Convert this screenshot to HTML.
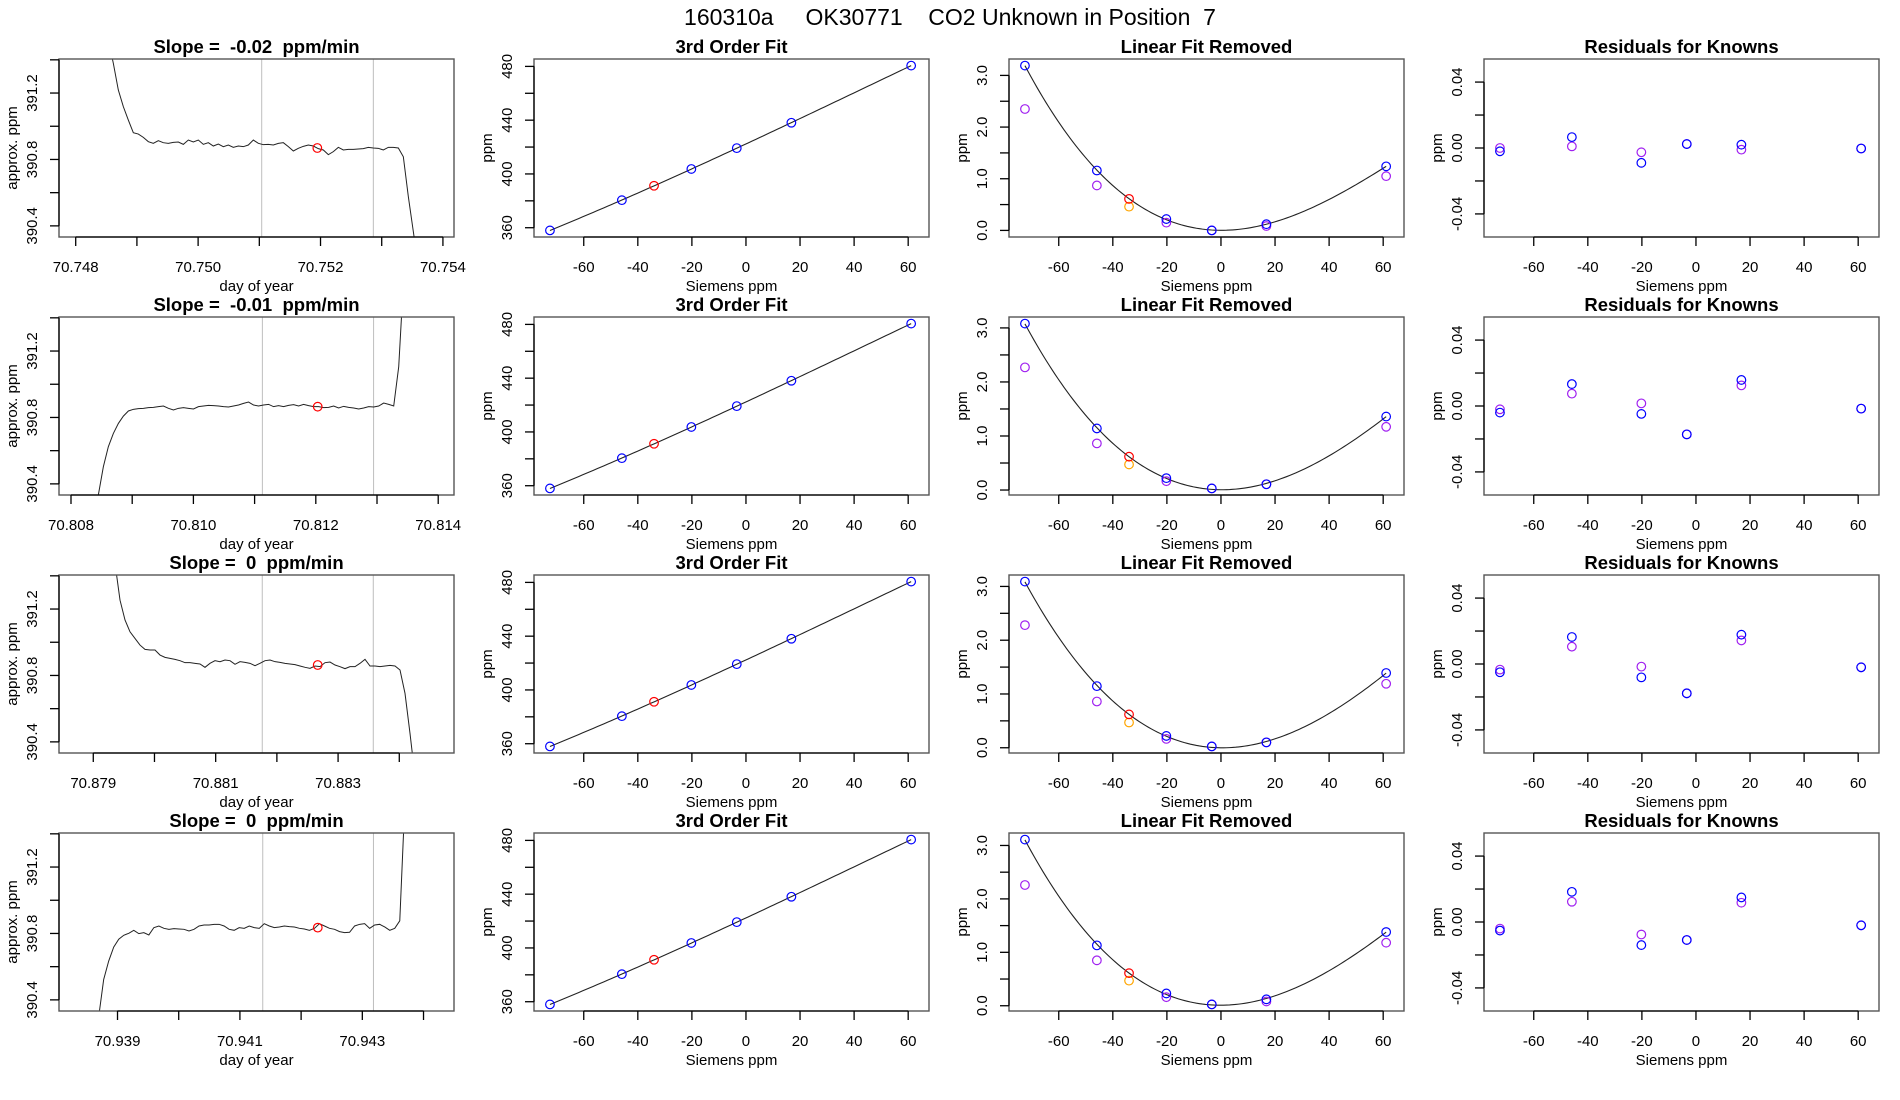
<!DOCTYPE html>
<html>
<head>
<meta charset="utf-8">
<style>
  html, body { margin: 0; padding: 0; background: #ffffff; }
  svg { display: block; font-family: "Liberation Sans", Arial, sans-serif; }
</style>
</head>
<body>
<svg id="fig" width="1900" height="1100" viewBox="0 0 1900 1100" xmlns="http://www.w3.org/2000/svg">
  <rect x="0" y="0" width="1900" height="1100" fill="#ffffff"></rect>
  <text x="950" y="25" text-anchor="middle" font-size="23" fill="#000" style="white-space:pre">160310a     OK30771    CO2 Unknown in Position  7</text>
</svg>
<script>
// ---------- Data ----------
const slopeLabels = ["-0.02", "-0.01", "0", "0"];
const traceXlimLo = [70.747727, 70.807804, 70.878440, 70.938044];
const traceXlimHi = [70.754181, 70.814258, 70.884894, 70.944498];
const traceYlim = [390.333, 391.405];
const traceStart = [70.748533, 70.808365, 70.879355, 70.938692];
const traceDt = [0.0000817, 0.0000818, 0.0000817, 0.000082];
const trace1 = [391.519,391.379,391.218,391.118,391.037,390.961,390.953,390.933,390.907,390.897,390.913,390.901,390.897,390.903,390.905,390.891,390.917,390.905,390.917,390.891,390.901,390.881,390.893,390.877,390.887,390.873,390.881,390.877,390.887,390.917,390.897,390.889,390.891,390.887,390.897,390.901,390.877,390.851,390.867,390.879,390.887,390.881,390.865,390.857,390.829,390.847,390.873,390.857,390.861,390.861,390.863,390.865,390.873,390.869,390.867,390.857,390.873,390.873,390.869,390.816,390.576,390.365,390.154];
const trace2 = [390.162,390.333,390.503,390.624,390.704,390.764,390.808,390.839,390.849,390.853,390.855,390.859,390.861,390.865,390.869,390.855,390.845,390.855,390.859,390.855,390.851,390.865,390.869,390.873,390.871,390.869,390.865,390.863,390.869,390.875,390.885,390.893,390.875,390.869,390.875,390.879,390.865,390.871,390.865,390.873,390.877,390.869,390.879,390.871,390.865,390.865,390.859,390.861,390.869,390.857,390.867,390.861,390.857,390.851,390.857,390.865,390.863,390.869,390.887,390.879,390.869,391.106,391.648];
const trace3 = [391.475,391.254,391.134,391.063,391.023,390.983,390.957,390.953,390.953,390.923,390.909,390.903,390.897,390.889,390.877,390.877,390.873,390.869,390.849,390.873,390.889,390.883,390.893,390.889,390.867,390.883,390.879,390.873,390.859,390.873,390.889,390.893,390.883,390.879,390.873,390.869,390.865,390.857,390.849,390.843,390.857,390.853,390.877,390.881,390.863,390.853,390.841,390.853,390.853,390.873,390.897,390.857,390.857,390.853,390.857,390.861,390.857,390.833,390.692,390.451,390.190];
const trace4 = [390.297,390.523,390.634,390.718,390.765,390.789,390.801,390.819,390.799,390.805,390.791,390.835,390.845,390.831,390.825,390.829,390.827,390.825,390.815,390.825,390.845,390.851,390.851,390.855,390.855,390.845,390.825,390.819,390.835,390.831,390.845,390.835,390.831,390.859,390.845,390.835,390.839,390.845,390.841,390.839,390.831,390.827,390.819,390.831,390.859,390.845,390.831,390.825,390.811,390.805,390.807,390.845,390.855,390.859,390.831,390.851,390.855,390.839,390.819,390.831,390.876,391.581];
const traces = [trace1, trace2, trace3, trace4];
const markerDay = [70.751948, 70.812031, 70.882667, 70.942272];
const markerPpm = [390.869, 390.865, 390.863, 390.835];
const windowStartDay = [70.751039, 70.811127, 70.881761, 70.941373];
const windowEndDay = [70.752863, 70.812944, 70.883575, 70.943182];

const siemensX = [-72.5, -45.9, -20.2, -3.4, 16.8, 61.1];
const siemensXlim = [-78.4, 67.7];
const unknownX = -34.0;
const knownPpm = [358.0, 380.5, 403.7, 419.2, 438.1, 480.6];
const unknownPpm = 391.2;

const linBlue = [
  [3.19, 1.16, 0.22, 0.00, 0.12, 1.24],
  [3.08, 1.14, 0.22, 0.03, 0.107, 1.36],
  [3.09, 1.146, 0.22, 0.025, 0.10, 1.39],
  [3.11, 1.13, 0.23, 0.025, 0.12, 1.38]
];
const linPurple = [
  [2.35, 0.87, 0.15, 0.00, 0.085, 1.05],
  [2.27, 0.863, 0.164, 0.03, 0.107, 1.17],
  [2.28, 0.86, 0.165, 0.025, 0.10, 1.19],
  [2.26, 0.85, 0.16, 0.025, 0.08, 1.18]
];
const linRed = [0.61, 0.617, 0.62, 0.61];
const linOrange = [0.46, 0.473, 0.47, 0.47];

const resBlue = [
  [-0.002, 0.0066, -0.009, 0.0024, 0.002, -0.0003],
  [-0.004, 0.0133, -0.0048, -0.0172, 0.0158, -0.0016],
  [-0.005, 0.0164, -0.0081, -0.0178, 0.0178, -0.002],
  [-0.0052, 0.0183, -0.014, -0.0109, 0.0149, -0.002]
];
const resPurple = [
  [0.0, 0.001, -0.0026, 0.0024, -0.001, -0.0003],
  [-0.002, 0.0075, 0.0016, -0.0172, 0.0125, -0.0016],
  [-0.0034, 0.0105, -0.0016, -0.0178, 0.0143, -0.002],
  [-0.004, 0.0123, -0.0076, -0.0109, 0.0117, -0.002]
];
const resYlim = [-0.054, 0.054];

const fitYTicks = [360, 380, 400, 420, 440, 460, 480];
const sieXTicks = [-60, -40, -20, 0, 20, 40, 60];
const linYTicks = [0, 0.5, 1, 1.5, 2, 2.5, 3];
const resYTicks = [-0.04, -0.02, 0, 0.02, 0.04];
const traceYTicks = [390.4, 390.6, 390.8, 391.0, 391.2, 391.4];

// ---------- helpers ----------
const NS = "http://www.w3.org/2000/svg";
const svg = document.getElementById("fig");
function mk(tag, attrs, parent) {
  const e = document.createElementNS(NS, tag);
  for (const k in attrs) e.setAttribute(k, attrs[k]);
  (parent || svg).appendChild(e);
  return e;
}
function scale(d0, d1, p0, p1) { return v => p0 + (v - d0) / (d1 - d0) * (p1 - p0); }
function ext(lo, hi) { const d = (hi - lo) * 0.04; return [lo - d, hi + d]; }

function cubicFit(xs, ys) {
  const n = 4, A = [], b = [];
  for (let i = 0; i < n; i++) { A.push([0,0,0,0]); b.push(0); }
  for (let k = 0; k < xs.length; k++) {
    const x = xs[k] / 100, p = [1, x, x*x, x*x*x];
    for (let i = 0; i < n; i++) { b[i] += p[i] * ys[k]; for (let j = 0; j < n; j++) A[i][j] += p[i] * p[j]; }
  }
  for (let i = 0; i < n; i++) {
    let mx = i; for (let r = i+1; r < n; r++) if (Math.abs(A[r][i]) > Math.abs(A[mx][i])) mx = r;
    [A[i], A[mx]] = [A[mx], A[i]]; [b[i], b[mx]] = [b[mx], b[i]];
    for (let r = i+1; r < n; r++) { const f = A[r][i] / A[i][i]; for (let c = i; c < n; c++) A[r][c] -= f * A[i][c]; b[r] -= f * b[i]; }
  }
  const c = [0,0,0,0];
  for (let i = n-1; i >= 0; i--) { let s = b[i]; for (let j = i+1; j < n; j++) s -= A[i][j] * c[j]; c[i] = s / A[i][i]; }
  return x => { const t = x / 100; return c[0] + c[1]*t + c[2]*t*t + c[3]*t*t*t; };
}

function fmt(v, d) { const s = v.toFixed(d); return s === "-" + (0).toFixed(d) ? (0).toFixed(d) : s; }

function drawFrame(g, L, T, W, H) {
  const box = mk("rect", {x: L, y: T, width: W, height: H, fill: "none", stroke: "#555", "stroke-width": 1.4}, g);
  
  
}
function xAxis(g, ticks, sx, B, labelFn) {
  const ax = mk("g", {}, g);
  
  
  mk("line", {x1: sx(ticks[0]), x2: sx(ticks[ticks.length-1]), y1: B, y2: B, stroke: "#000", "stroke-width": 1.3}, ax);
  ticks.forEach((t, i) => {
    mk("line", {x1: sx(t), x2: sx(t), y1: B, y2: B + 9, stroke: "#000", "stroke-width": 1.3}, ax);
    const lab = labelFn(t, i);
    if (lab !== null) {
      const tx = mk("text", {x: sx(t), y: B + 35, "text-anchor": "middle", "font-size": 15, fill: "#000"}, ax);
      tx.textContent = lab;
      
      
    }
  });
}
function yAxis(g, ticks, sy, L, labelFn) {
  const ax = mk("g", {}, g);
  
  
  mk("line", {x1: L, x2: L, y1: sy(ticks[0]), y2: sy(ticks[ticks.length-1]), stroke: "#000", "stroke-width": 1.3}, ax);
  ticks.forEach((t, i) => {
    mk("line", {x1: L, x2: L - 9, y1: sy(t), y2: sy(t), stroke: "#000", "stroke-width": 1.3}, ax);
    const lab = labelFn(t, i);
    if (lab !== null) {
      const tx = mk("text", {x: 0, y: 0, "text-anchor": "middle", "font-size": 15, fill: "#000",
        transform: "translate(" + (L - 22) + "," + sy(t) + ") rotate(-90)"}, ax);
      tx.textContent = lab;
      
      
    }
  });
}
function titles(g, L, T, W, H, main, xl, yl) {
  const t = mk("text", {x: L + W/2, y: T - 6, "text-anchor": "middle", "font-size": 18.5, "font-weight": "bold", fill: "#000", style: "white-space:pre"}, g);
  t.textContent = main;
  
  
  const x = mk("text", {x: L + W/2, y: T + H + 54, "text-anchor": "middle", "font-size": 15, fill: "#000"}, g);
  x.textContent = xl;
  
  
  const y = mk("text", {x: 0, y: 0, "text-anchor": "middle", "font-size": 15, fill: "#000",
    transform: "translate(" + (L - 42) + "," + (T + H/2) + ") rotate(-90)"}, g);
  y.textContent = yl;
  
  
}
function circle(g, cx, cy, color, name) {
  const c = mk("circle", {cx: cx, cy: cy, r: 4.3, fill: "none", stroke: color, "stroke-width": 1.2}, g);
  
  
  return c;
}

const W = 395, H = 178;
const sxCal = siemensXlim;

for (let r = 0; r < 4; r++) {
  const T = 59 + 258 * r;
  const B = T + H;

  // ----- column 1: trace -----
  {
    const L = 59;
    const g = mk("g", {});
    
    
    const sx = scale(traceXlimLo[r], traceXlimHi[r], L, L + W);
    const sy = scale(traceYlim[0], traceYlim[1], B, T);
    const clipId = "clip-trace-" + r;
    const cp = mk("clipPath", {id: clipId}, g);
    mk("rect", {x: L, y: T, width: W, height: H}, cp);
    [windowStartDay[r], windowEndDay[r]].forEach((d, i) => {
      const ln = mk("line", {x1: sx(d), x2: sx(d), y1: T, y2: B, stroke: "#bebebe", "stroke-width": 1}, g);
      
      
    });
    const vals = traces[r];
    let dstr = "";
    vals.forEach((v, i) => { dstr += (i ? "L" : "M") + sx(traceStart[r] + i * traceDt[r]).toFixed(2) + "," + sy(v).toFixed(2); });
    const p = mk("path", {d: dstr, fill: "none", stroke: "#222", "stroke-width": 1.0, "clip-path": "url(#" + clipId + ")"}, g);
    
    
    circle(g, sx(markerDay[r]), sy(markerPpm[r]), "#ff0000", "unknown-mean-marker");
    drawFrame(g, L, T, W, H);
    const xt = [];
    for (let k = Math.ceil(traceXlimLo[r] * 1000 - 1e-6); k / 1000 <= traceXlimHi[r] + 1e-9; k++) xt.push(k / 1000);
    xAxis(g, xt, sx, B, (t, i) => i % 2 === 0 ? t.toFixed(3) : null);
    yAxis(g, traceYTicks, sy, L, (t, i) => i % 2 === 0 ? t.toFixed(1) : null);
    titles(g, L, T, W, H, "Slope =  " + slopeLabels[r] + "  ppm/min", "day of year", "approx. ppm");
  }

  // ----- column 2: 3rd order fit -----
  {
    const L = 59 + 475;
    const g = mk("g", {});
    
    
    const yr = ext(Math.min(...knownPpm, unknownPpm), Math.max(...knownPpm, unknownPpm));
    const sx = scale(sxCal[0], sxCal[1], L, L + W);
    const sy = scale(yr[0], yr[1], B, T);
    const f = cubicFit(siemensX, knownPpm);
    const x0 = Math.min(...siemensX), x1 = Math.max(...siemensX);
    let d = "";
    for (let k = 0; k <= 100; k++) { const x = x0 + (x1 - x0) * k / 100; d += (k ? "L" : "M") + sx(x).toFixed(2) + "," + sy(f(x)).toFixed(2); }
    const p = mk("path", {d: d, fill: "none", stroke: "#222", "stroke-width": 1.1}, g);
    
    
    siemensX.forEach((x, i) => circle(g, sx(x), sy(knownPpm[i]), "#0000ff", "known-standard-point"));
    circle(g, sx(unknownX), sy(unknownPpm), "#ff0000", "unknown-point");
    drawFrame(g, L, T, W, H);
    xAxis(g, sieXTicks, sx, B, t => String(t));
    yAxis(g, fitYTicks, sy, L, (t, i) => i % 2 === 0 ? String(t) : null);
    titles(g, L, T, W, H, "3rd Order Fit", "Siemens ppm", "ppm");
  }

  // ----- column 3: linear fit removed -----
  {
    const L = 59 + 950;
    const g = mk("g", {});
    
    
    const all = linBlue[r].concat(linPurple[r], [linRed[r], linOrange[r]]);
    const yr = ext(Math.min(...all), Math.max(...all));
    const sx = scale(sxCal[0], sxCal[1], L, L + W);
    const sy = scale(yr[0], yr[1], B, T);
    const f = cubicFit(siemensX, linBlue[r]);
    const x0 = Math.min(...siemensX), x1 = Math.max(...siemensX);
    let d = "";
    for (let k = 0; k <= 120; k++) { const x = x0 + (x1 - x0) * k / 120; d += (k ? "L" : "M") + sx(x).toFixed(2) + "," + sy(f(x)).toFixed(2); }
    const p = mk("path", {d: d, fill: "none", stroke: "#222", "stroke-width": 1.1}, g);
    
    
    siemensX.forEach((x, i) => circle(g, sx(x), sy(linPurple[r][i]), "#a020f0", "previous-run-point"));
    siemensX.forEach((x, i) => circle(g, sx(x), sy(linBlue[r][i]), "#0000ff", "known-standard-point"));
    circle(g, sx(unknownX), sy(linOrange[r]), "#ffa500", "unknown-previous-point");
    circle(g, sx(unknownX), sy(linRed[r]), "#ff0000", "unknown-point");
    drawFrame(g, L, T, W, H);
    xAxis(g, sieXTicks, sx, B, t => String(t));
    yAxis(g, linYTicks.filter(t => t >= yr[0] && t <= yr[1]), sy, L, t => Number.isInteger(t) ? t.toFixed(1) : null);
    titles(g, L, T, W, H, "Linear Fit Removed", "Siemens ppm", "ppm");
  }

  // ----- column 4: residuals -----
  {
    const L = 59 + 1425;
    const g = mk("g", {});
    
    
    const sx = scale(sxCal[0], sxCal[1], L, L + W);
    const sy = scale(resYlim[0], resYlim[1], B, T);
    siemensX.forEach((x, i) => circle(g, sx(x), sy(resPurple[r][i]), "#a020f0", "previous-residual-point"));
    siemensX.forEach((x, i) => circle(g, sx(x), sy(resBlue[r][i]), "#0000ff", "residual-point"));
    drawFrame(g, L, T, W, H);
    xAxis(g, sieXTicks, sx, B, t => String(t));
    yAxis(g, resYTicks, sy, L, (t, i) => i % 2 === 0 ? fmt(t, 2) : null);
    titles(g, L, T, W, H, "Residuals for Knowns", "Siemens ppm", "ppm");
  }
}
</script>
</body>
</html>
